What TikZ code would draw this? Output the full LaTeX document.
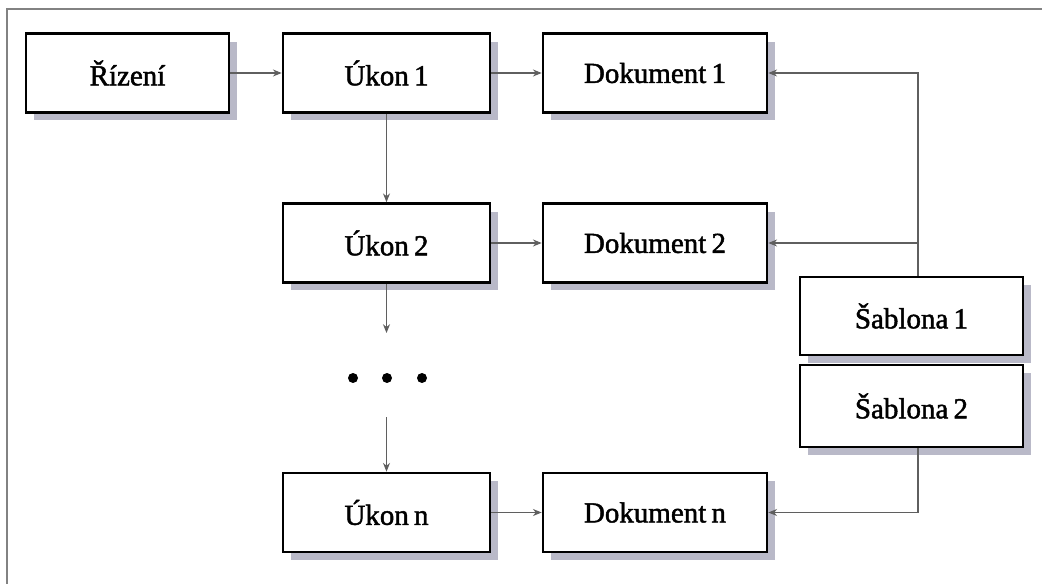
\documentclass[tikz,border=0pt]{standalone}
\usepackage{fontspec}
\setmainfont{Liberation Serif}
\newfontfamily\boxfont{Liberation Serif}[FakeBold=1.6]
\newcommand\boxtextstyle{\boxfont\fontsize{16.5}{18}\selectfont\spaceskip 0.18em\relax}
\usepackage{tikz}
\usetikzlibrary{shadows,arrows.meta}

\definecolor{framegray}{RGB}{130,130,130}
\definecolor{linegray}{RGB}{95,95,95}
\definecolor{shadowgray}{RGB}{185,185,200}

\tikzset{
  box/.style={draw=black, line width=1.5pt, fill=white, minimum height=1.58cm,
    font=\boxtextstyle,
    drop shadow={shadow xshift=0.16cm, shadow yshift=-0.16cm, fill=shadowgray, opacity=1}},
  link/.style={draw=linegray, line width=0.6pt, -{Stealth[length=5pt,width=4pt]}},
  dot/.style={circle, fill=black, inner sep=0pt, minimum size=0.2cm}
}

\begin{document}
\begin{tikzpicture}[x=0.02cm, y=-0.02cm]
% page size and the frame (top and left edge only)
\useasboundingbox (0,0) rectangle (1042,584);
\draw[framegray, line width=1.2pt] (7,584) -- (7,9) -- (1042,9);

% the boxes
\node[box, minimum width=4.06cm] (rizeni) at (127.5,73) {Řízení};
\node[box, minimum width=4.14cm] (ukon1) at (386.5,73) {Úkon 1};
\node[box, minimum width=4.14cm] (ukon2) at (386.5,243) {Úkon 2};
\node[box, minimum width=4.14cm] (ukonn) at (386.5,512.5) {Úkon n};
\node[box, minimum width=4.48cm] (dok1) at (655,73) {Dokument 1};
\node[box, minimum width=4.48cm] (dok2) at (655,243) {Dokument 2};
\node[box, minimum width=4.48cm] (dokn) at (655,512.5) {Dokument n};
\node[box, minimum width=4.46cm, minimum height=1.56cm] (sabl1) at (911.5,316) {Šablona 1};
\node[box, minimum width=4.46cm, minimum height=1.64cm] (sabl2) at (911.5,406) {Šablona 2};

% the dots between Úkon 2 and Úkon n
\node[dot] (d1) at (353,378) {};
\node[dot] (d2) at (387,378) {};
\node[dot] (d3) at (422,378) {};
\coordinate (gapa) at (386.5,333);
\coordinate (gapb) at (386.5,417);

% the arrows
\draw[link] (rizeni) -- (ukon1);
\draw[link] (ukon1) -- (dok1);
\draw[link] (ukon2) -- (dok2);
\draw[link] (ukonn) -- (dokn);
\draw[link] (ukon1) -- (ukon2);
\draw[link] (ukon2) -- (gapa);
\draw[link] (gapb) -- (ukonn);

% from the templates back to the documents
\coordinate (sabtop) at (sabl1.north -| 918,0);
\coordinate (sabbot) at (sabl2.south -| 918,0);
\draw[link] (sabtop) |- (dok1);
\draw[link] (sabtop) |- (dok2);
\draw[link] (sabbot) |- (dokn);
\end{tikzpicture}
\end{document}
